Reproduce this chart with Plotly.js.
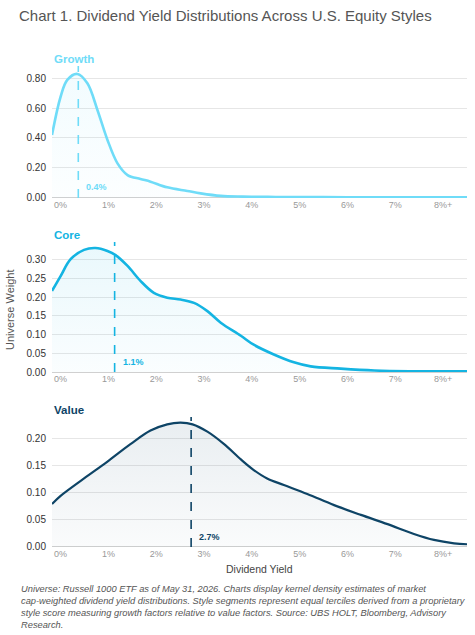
<!DOCTYPE html>
<html>
<head>
<meta charset="utf-8">
<script src="https://cdn.plot.ly/plotly-3.0.1.min.js"></script>
<style>html,body{margin:0;padding:0;background:#fff;}#chart{width:475px;height:635px;}</style>
</head>
<body>
<div id="chart"></div>
<script>
// Data
const growthX = [-0.18, 0, 0.14, 0.35, 0.56, 0.77, 0.98, 1.19, 1.4, 1.67, 1.88, 2.23, 2.65, 2.93, 3.35, 3.8, 4.5, 5.5, 6.5, 7.5, 8.5];
const growthY = [0.42, 0.675, 0.787, 0.827, 0.765, 0.587, 0.387, 0.231, 0.153, 0.127, 0.109, 0.071, 0.047, 0.031, 0.014, 0.009, 0.007, 0.006, 0.005, 0.005, 0.005];
const coreX = [-0.18, 0, 0.21, 0.49, 0.73, 0.98, 1.15, 1.4, 1.67, 1.95, 2.23, 2.51, 2.79, 3.07, 3.35, 3.77, 4.04, 4.46, 4.88, 5.23, 5.86, 6.56, 7.3, 8.0, 8.5];
const coreY = [0.217, 0.257, 0.302, 0.327, 0.332, 0.324, 0.313, 0.284, 0.244, 0.212, 0.199, 0.194, 0.185, 0.163, 0.132, 0.097, 0.073, 0.047, 0.026, 0.015, 0.009, 0.004, 0.002, 0.002, 0.002];
const valueX = [-0.18, 0, 0.49, 0.98, 1.46, 1.88, 2.23, 2.51, 2.76, 3.07, 3.42, 3.77, 4.04, 4.32, 4.67, 5.16, 5.72, 6.28, 6.84, 7.39, 7.81, 8.23, 8.5];
const valueY = [0.079, 0.094, 0.126, 0.157, 0.189, 0.214, 0.2255, 0.2285, 0.2255, 0.212, 0.189, 0.161, 0.1415, 0.126, 0.114, 0.0975, 0.077, 0.059, 0.042, 0.024, 0.013, 0.0068, 0.005];
const medians = {Growth: 0.37, Core: 1.13, Value: 2.73};
const tickVals = [0, 1, 2, 3, 4, 5, 6, 7, 8];
const tickText = ["0%", "1%", "2%", "3%", "4%", "5%", "6%", "7%", "8%+"];
const growthTicks = [0, 0.2, 0.4, 0.6, 0.8];
const coreTicks = [0, 0.05, 0.1, 0.15, 0.2, 0.25, 0.3];
const valueTicks = [0, 0.05, 0.1, 0.15, 0.2];
const styles = ["Growth", "Core", "Value"];

const colors = {Growth: "#6fdcf8", Core: "#14b4e2", Value: "#0e4466"};
const rgb = {Growth: "111,220,248", Core: "20,180,226", Value: "14,68,102"};
const series = {Growth: [growthX, growthY], Core: [coreX, coreY], Value: [valueX, valueY]};
const yTicks = {Growth: growthTicks, Core: coreTicks, Value: valueTicks};
const axSuffix = {Growth: "", Core: "2", Value: "3"};

const traces = styles.map(s => ({
  x: series[s][0], y: series[s][1],
  xaxis: "x" + axSuffix[s], yaxis: "y" + axSuffix[s],
  type: "scatter", mode: "lines",
  line: {color: colors[s], width: s === "Value" ? 2.2 : 2.6, shape: "spline", smoothing: 1},
  fill: "tozeroy",
  fillgradient: {type: "vertical", colorscale: [[0, "rgba(" + rgb[s] + ",0.02)"], [1, "rgba(" + rgb[s] + ",0.09)"]]},
  hoverinfo: "skip", showlegend: false
}));

const xBase = {
  range: [-0.18, 8.5], tickvals: tickVals, ticktext: tickText,
  tickfont: {family: "Liberation Sans, Arial, sans-serif", size: 9, color: "#999"},
  showgrid: false, zeroline: false, showline: false, ticks: "", fixedrange: true
};
const yBase = {
  tickfont: {family: "Liberation Sans, Arial, sans-serif", size: 10, color: "#333"},
  showgrid: true, gridcolor: "#e6e6e6", gridwidth: 1, zeroline: true, zerolinecolor: "#d0d0d0", zerolinewidth: 1,
  tickformat: ".2f", ticks: "", ticklabelstandoff: 5, fixedrange: true
};

const domains = {Growth: [0.7256, 1.0], Core: [0.3638, 0.634], Value: [0, 0.2703]};
const yRanges = {Growth: [0, 0.88], Core: [0, 0.348], Value: [0, 0.239]};

const layout = {
  width: 475, height: 635,
  margin: {l: 52, r: 8, t: 66, b: 88},
  paper_bgcolor: "#fff", plot_bgcolor: "#fff",
  font: {family: "Liberation Sans, Arial, sans-serif"},
  title: {text: "Chart 1. Dividend Yield Distributions Across U.S. Equity Styles",
    font: {family: "Liberation Sans, Arial, sans-serif", size: 15, color: "#555"},
    xref: "container", yref: "container", x: 19/475, xanchor: "left", y: 1 - 16/635, yanchor: "middle"},
  shapes: [], annotations: []
};

styles.forEach(s => {
  const k = axSuffix[s];
  layout["xaxis" + k] = Object.assign({}, xBase, {anchor: "y" + k});
  layout["yaxis" + k] = Object.assign({}, yBase, {domain: domains[s], range: yRanges[s], tickvals: yTicks[s], anchor: "x" + k});
  layout.shapes.push({type: "line", xref: "x" + k, yref: "y" + k + " domain", x0: medians[s], x1: medians[s], y0: 0, y1: 1,
    line: {color: colors[s], width: 1.6, dash: "dash"}});
  layout.annotations.push({xref: "x" + k, yref: "y" + k + " domain", x: medians[s], y: 0.08, xanchor: "left", yanchor: "middle",
    xshift: 6, text: "<b>" + medians[s].toFixed(1) + "%</b>", showarrow: false,
    font: {size: 9, color: colors[s]}});
  layout.annotations.push({xref: "paper", yref: "y" + k + " domain", x: 0, y: 1, xanchor: "left", yanchor: "bottom", yshift: -1,
    text: "<b>" + s + "</b>", showarrow: false, font: {size: 11.5, color: colors[s]}});
});

layout.annotations.push({xref: "paper", yref: "paper", x: (10 - 52)/415, y: 0.4927, textangle: -90,
  text: "Universe Weight", showarrow: false, xanchor: "center", yanchor: "middle", font: {size: 11, color: "#555"}});
layout.annotations.push({xref: "paper", yref: "paper", x: 0.501, y: (547 - 569)/481, text: "Dividend Yield",
  showarrow: false, xanchor: "center", yanchor: "middle", font: {size: 10.5, color: "#444"}});
layout.annotations.push({xref: "paper", yref: "paper", x: (19 - 52)/415, y: (547 - 582)/481, xanchor: "left", yanchor: "top", align: "left",
  showarrow: false,
  text: "<i>Universe: Russell 1000 ETF as of May 31, 2026. Charts display kernel density estimates of market<br>cap-weighted dividend yield distributions. Style segments represent equal terciles derived from a proprietary<br>style score measuring growth factors relative to value factors. Source: UBS HOLT, Bloomberg, Advisory<br>Research.</i>",
  font: {size: 9.3, color: "#555"}});

Plotly.newPlot("chart", traces, layout, {displayModeBar: false, staticPlot: true});
</script>
</body>
</html>
